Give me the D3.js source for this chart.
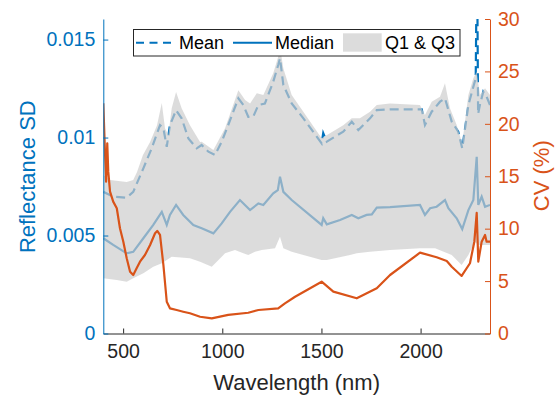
<!DOCTYPE html>
<html>
<head>
<meta charset="utf-8">
<script src="https://cdn.jsdelivr.net/npm/d3@7"></script>
<style>
  html, body { margin: 0; padding: 0; background: #fff; }
  svg { display: block; }
  text { font-family: "Liberation Sans", Arial, sans-serif; }
</style>
</head>
<body>
<svg id="chart" width="559" height="398"></svg>
<script>
// ---- Data ----
const xTicks = [500, 1000, 1500, 2000];
const xTickLabels = ["500", "1000", "1500", "2000"];
const leftTicks = [0, 0.005, 0.01, 0.015];
const leftTickLabels = ["0", "0.005", "0.01", "0.015"];
const rightTicks = [0, 5, 10, 15, 20, 25, 30];

const meanWl  = [400, 450, 518, 551, 602, 644, 686, 703, 720, 736, 767, 795, 829, 871, 896, 930, 963, 997, 1030, 1081, 1106, 1131, 1156, 1182, 1215, 1257, 1282, 1291, 1308, 1350, 1409, 1501, 1509, 1527, 1610, 1653, 1686, 1745, 1779, 1846, 2006, 2022, 2056, 2098, 2123, 2157, 2190, 2210, 2241, 2266, 2278, 2282, 2286, 2290, 2299, 2316, 2333, 2350];
const meanVal = [0.00723, 0.00698, 0.00693, 0.00723, 0.00843, 0.00945, 0.01063, 0.01047, 0.00953, 0.01063, 0.01140, 0.01098, 0.00996, 0.00945, 0.00962, 0.00928, 0.00911, 0.00979, 0.01064, 0.01200, 0.01166, 0.01106, 0.01106, 0.01166, 0.01174, 0.01285, 0.01370, 0.01404, 0.01268, 0.01174, 0.01098, 0.00970, 0.01023, 0.00979, 0.01030, 0.01081, 0.01038, 0.01098, 0.01140, 0.01144, 0.01144, 0.01064, 0.01132, 0.01183, 0.01200, 0.01081, 0.01030, 0.00945, 0.01166, 0.01259, 0.01302, 0.0175, 0.0175, 0.01120, 0.01166, 0.01234, 0.01208, 0.01166];

const medianWl  = [400, 450, 518, 551, 602, 652, 695, 720, 736, 767, 803, 854, 896, 955, 997, 1039, 1089, 1140, 1182, 1207, 1257, 1280, 1291, 1308, 1350, 1501, 1509, 1527, 1594, 1653, 1686, 1728, 1754, 1779, 1846, 1997, 2022, 2048, 2081, 2123, 2140, 2182, 2210, 2241, 2266, 2283, 2291, 2308, 2325, 2350];
const medianVal = [0.00486, 0.00452, 0.00409, 0.00417, 0.00486, 0.00554, 0.00621, 0.00554, 0.00605, 0.00656, 0.00605, 0.00554, 0.00537, 0.00511, 0.00562, 0.00621, 0.00681, 0.00630, 0.00664, 0.00656, 0.00715, 0.00732, 0.00800, 0.00723, 0.00681, 0.00554, 0.00588, 0.00557, 0.00579, 0.00605, 0.00588, 0.00605, 0.00608, 0.00642, 0.00645, 0.00656, 0.00605, 0.00639, 0.00647, 0.00681, 0.00639, 0.00588, 0.00533, 0.00630, 0.00681, 0.00902, 0.00656, 0.00698, 0.00647, 0.00656];

const q3Wl  = [400, 434, 518, 551, 570, 600, 636, 671, 695, 711, 728, 745, 767, 795, 837, 888, 896, 955, 1014, 1081, 1115, 1140, 1174, 1207, 1257, 1282, 1291, 1308, 1350, 1501, 1610, 1653, 1694, 1745, 1779, 1846, 1997, 2022, 2056, 2098, 2123, 2148, 2182, 2210, 2241, 2266, 2283, 2299, 2325, 2350];
const q3Val = [0.00809, 0.00783, 0.00773, 0.00783, 0.00824, 0.00911, 0.00977, 0.01063, 0.01176, 0.01048, 0.01013, 0.01150, 0.01232, 0.01150, 0.01063, 0.00977, 0.00979, 0.00936, 0.01047, 0.01242, 0.01191, 0.01174, 0.01226, 0.01217, 0.01328, 0.01412, 0.01463, 0.01353, 0.01217, 0.00996, 0.01063, 0.01098, 0.01098, 0.01132, 0.01166, 0.01174, 0.01166, 0.01115, 0.01183, 0.01208, 0.01277, 0.01149, 0.01064, 0.00970, 0.01217, 0.01302, 0.01336, 0.01217, 0.01251, 0.01217];

const q1Wl  = [400, 468, 518, 551, 602, 652, 695, 745, 837, 888, 947, 1014, 1064, 1106, 1131, 1165, 1199, 1266, 1291, 1308, 1350, 1501, 1527, 1644, 1678, 1745, 1846, 1997, 2073, 2157, 2207, 2241, 2274, 2291, 2350];
const q1Val = [0.00282, 0.00273, 0.00264, 0.00282, 0.00307, 0.00341, 0.00358, 0.00392, 0.00384, 0.00366, 0.00341, 0.00409, 0.00426, 0.00409, 0.00401, 0.00417, 0.00426, 0.00435, 0.00494, 0.00435, 0.00417, 0.00375, 0.00375, 0.00401, 0.00409, 0.00417, 0.00426, 0.00435, 0.00435, 0.00401, 0.00349, 0.00401, 0.00468, 0.00452, 0.00452];

const cvWl  = [400, 409, 414, 420, 425, 434, 450, 468, 484, 501, 518, 535, 551, 568, 585, 610, 636, 661, 672, 686, 703, 720, 736, 770, 803, 837, 888, 947, 1030, 1131, 1182, 1282, 1316, 1367, 1501, 1560, 1678, 1779, 1846, 1997, 2081, 2132, 2157, 2207, 2249, 2271, 2283, 2291, 2308, 2325, 2333, 2350];
const cvVal = [21.97, 17.03, 14.48, 18.15, 15.44, 13.53, 12.58, 11.95, 10.04, 8.76, 7.18, 5.90, 5.58, 6.22, 6.85, 7.49, 8.44, 9.56, 9.78, 9.40, 6.54, 3.03, 2.40, 2.24, 2.08, 1.93, 1.60, 1.45, 1.77, 1.98, 2.24, 2.40, 2.88, 3.51, 4.94, 3.99, 3.36, 4.31, 5.58, 7.71, 7.27, 6.92, 6.37, 5.49, 6.70, 8.76, 11.50, 6.85, 8.76, 9.40, 8.76, 8.76];

// ---- Layout ----
const BLUE = "#0072BD", ORANGE = "#D95319", DARK = "#262626";
const L = 103.3, R = 490, T = 19, B = 333.5;
const svg = d3.select("#chart");

const x = d3.scaleLinear().domain([400, 2350]).range([L, R]);
const yL = d3.scaleLinear().domain([0, 0.01605]).range([B, T]);
const yR = d3.scaleLinear().domain([0, 30]).range([B, T]);

svg.append("clipPath").attr("id", "clip")
  .append("rect").attr("x", L).attr("y", T).attr("width", R - L).attr("height", B - T);

const plot = svg.append("g").attr("clip-path", "url(#clip)");

const lineL = d3.line().x(d => x(d[0])).y(d => yL(d[1]));
const lineR = d3.line().x(d => x(d[0])).y(d => yR(d[1]));

const meanPts = meanWl.map((w, i) => [w, meanVal[i]]);
const medPts = medianWl.map((w, i) => [w, medianVal[i]]);
const q3Pts = q3Wl.map((w, i) => [w, q3Val[i]]);
const q1Pts = q1Wl.map((w, i) => [w, q1Val[i]]);
const cvPts = cvWl.map((w, i) => [w, cvVal[i]]);

// blue lines first (band is semi-transparent over them)
plot.append("path").attr("d", lineL(meanPts)).attr("fill", "none")
  .attr("stroke", BLUE).attr("stroke-width", 2.2).attr("stroke-dasharray", "9,5");
plot.append("path").attr("d", lineL(medPts)).attr("fill", "none")
  .attr("stroke", BLUE).attr("stroke-width", 2.2);

// Q1 & Q3 band
const bandPts = q3Pts.concat(q1Pts.slice().reverse());
plot.append("path").attr("d", lineL(bandPts) + "Z")
  .attr("fill", "#cccccc").attr("fill-opacity", 0.69).attr("stroke", "none");

// CV line (right axis)
plot.append("path").attr("d", lineR(cvPts)).attr("fill", "none")
  .attr("stroke", ORANGE).attr("stroke-width", 2.2).attr("stroke-linejoin", "round");

// ---- Axes ----
const xAxis = d3.axisBottom(x).tickValues(xTicks).tickFormat((d, i) => xTickLabels[i])
  .tickSizeInner(-5).tickSizeOuter(0).tickPadding(10);
const gx = svg.append("g").attr("transform", `translate(0,${B})`).call(xAxis);
gx.select(".domain").attr("stroke", DARK);
gx.selectAll(".tick line").attr("stroke", DARK);
gx.selectAll(".tick text").attr("fill", DARK).attr("font-size", "19.5px")
  .attr("font-family", "Liberation Sans, Arial, sans-serif").attr("dy", "1.0em").attr("y", 5);

const yAxisL = d3.axisLeft(yL).tickValues(leftTicks).tickFormat((d, i) => leftTickLabels[i])
  .tickSizeInner(-5).tickSizeOuter(0).tickPadding(8);
const gyl = svg.append("g").attr("transform", `translate(${L},0)`).call(yAxisL);
gyl.select(".domain").attr("stroke", BLUE);
gyl.selectAll(".tick line").attr("stroke", BLUE);
gyl.selectAll(".tick text").attr("fill", BLUE).attr("font-size", "19.5px")
  .attr("font-family", "Liberation Sans, Arial, sans-serif").attr("x", -8);

const yAxisR = d3.axisRight(yR).tickValues(rightTicks).tickSizeInner(-5).tickSizeOuter(0).tickPadding(8);
const gyr = svg.append("g").attr("transform", `translate(${R},0)`).call(yAxisR);
gyr.select(".domain").attr("stroke", ORANGE);
gyr.selectAll(".tick line").attr("stroke", ORANGE);
gyr.selectAll(".tick text").attr("fill", ORANGE).attr("font-size", "19.5px")
  .attr("font-family", "Liberation Sans, Arial, sans-serif").attr("x", 8);

// Axis labels
svg.append("text").attr("x", (L + R) / 2).attr("y", 390).attr("text-anchor", "middle")
  .attr("font-size", "22px").attr("fill", DARK).text("Wavelength (nm)");
svg.append("text").attr("transform", "translate(35,176.7) rotate(-90)").attr("text-anchor", "middle")
  .attr("font-size", "22px").attr("fill", BLUE).text("Reflectance SD");
svg.append("text").attr("transform", "translate(548.5,175.7) rotate(-90)").attr("text-anchor", "middle")
  .attr("font-size", "22px").attr("fill", ORANGE).text("CV (%)");

// ---- Legend ----
const lg = svg.append("g");
lg.append("rect").attr("x", 133.5).attr("y", 29.5).attr("width", 326.5).attr("height", 26.5)
  .attr("fill", "#fff").attr("stroke", DARK).attr("stroke-width", 1);
lg.append("line").attr("x1", 136).attr("x2", 175).attr("y1", 42.7).attr("y2", 42.7)
  .attr("stroke", BLUE).attr("stroke-width", 2).attr("stroke-dasharray", "8,5.5");
lg.append("text").attr("x", 179).attr("y", 49).attr("font-size", "18px").attr("fill", "#000").text("Mean");
lg.append("line").attr("x1", 233).attr("x2", 272).attr("y1", 42.7).attr("y2", 42.7)
  .attr("stroke", BLUE).attr("stroke-width", 2);
lg.append("text").attr("x", 275).attr("y", 49).attr("font-size", "18px").attr("fill", "#000").text("Median");
lg.append("rect").attr("x", 343).attr("y", 33.3).attr("width", 38.7).attr("height", 18.4)
  .attr("fill", "#cccccc").attr("fill-opacity", 0.69);
lg.append("text").attr("x", 385).attr("y", 49).attr("font-size", "18px").attr("fill", "#000").text("Q1 & Q3");
</script>
</body>
</html>
